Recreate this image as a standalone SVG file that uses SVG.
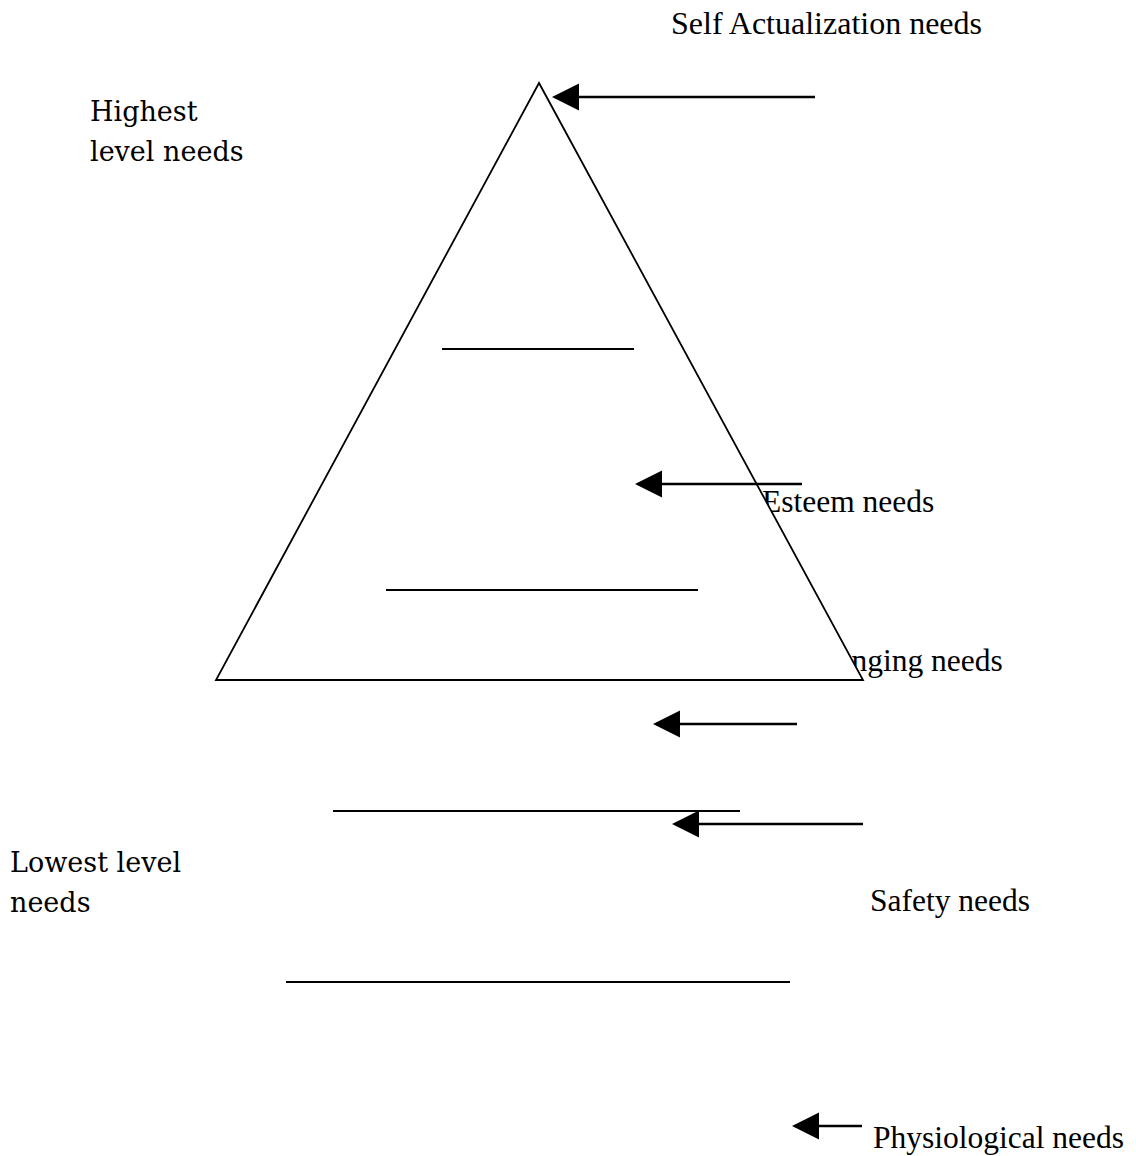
<svg xmlns="http://www.w3.org/2000/svg" width="1136" height="1156" viewBox="0 0 1136 1156">
<style>
.t{font-family:"Liberation Serif","Times New Roman",serif;font-size:31.5px;fill:#000}
.b{font-family:"DejaVu Serif",serif;font-size:27px;fill:#000}
.ln{stroke:#000;stroke-width:2.2;fill:none}
.ar{stroke:#000;stroke-width:2.5;fill:none;marker-end:url(#ah)}
</style>
<defs>
<marker id="ah" markerUnits="userSpaceOnUse" markerWidth="28" markerHeight="28" refX="24" refY="13.5" orient="auto" viewBox="0 0 28 28">
<path d="M0,0 L27,13.5 L0,27 z" fill="#000"/>
</marker>
</defs>
<rect width="1136" height="1156" fill="#fff"/>
<g id="labels">
<text id="lbl-self" class="t" x="671" y="34" style="font-size:32px">Self Actualization needs</text>
<text id="lbl-esteem" class="t" x="762" y="512">Esteem needs</text>
<text id="lbl-belonging" class="t" x="792" y="671">Belonging needs</text>
<text id="lbl-safety" class="t" x="870" y="911">Safety needs</text>
<text id="lbl-phys" class="t" x="873" y="1148">Physiological needs</text>
<text id="lbl-highest" class="b"><tspan x="90" y="121">Highest</tspan><tspan x="90" y="161">level needs</tspan></text>
<text id="lbl-lowest" class="b"><tspan x="10" y="872">Lowest level</tspan><tspan x="10" y="912">needs</tspan></text>
</g>
<g id="pyramid">
<polygon points="539,83 216,680 863,680" fill="#fff" stroke="#000" stroke-width="1.8" stroke-linejoin="miter"/>
<line class="ln" x1="442" y1="349" x2="634" y2="349"/>
<line class="ln" x1="386" y1="590" x2="698" y2="590"/>
<line class="ln" x1="333" y1="811" x2="740" y2="811"/>
<line class="ln" x1="286" y1="982" x2="790" y2="982"/>
</g>
<g id="connectors">
<line class="ar" x1="815" y1="97" x2="555" y2="97"/>
<line class="ar" x1="802" y1="484" x2="638" y2="484"/>
<line class="ar" x1="797" y1="724" x2="656" y2="724"/>
<line class="ar" x1="863" y1="824" x2="675" y2="824"/>
<line class="ar" x1="862" y1="1126" x2="795" y2="1126"/>
</g>
</svg>
